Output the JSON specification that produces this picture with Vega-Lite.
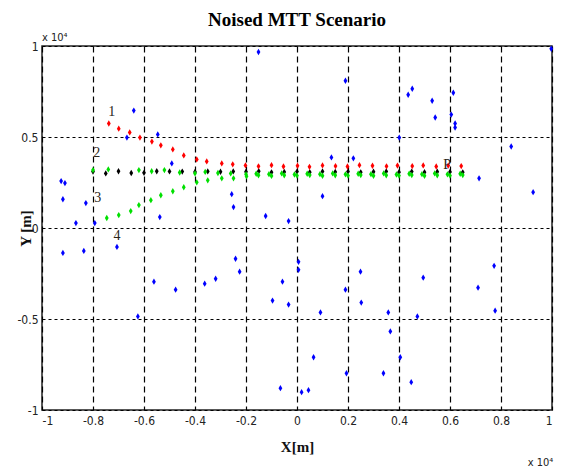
{
  "$schema": "https://vega.github.io/schema/vega-lite/v6.json",
  "width": 510,
  "height": 364,
  "autosize": {"type": "none"},
  "padding": {"left": 42, "top": 46, "right": 24, "bottom": 63},
  "background": "white",
  "config": {
    "view": {"stroke": "#222", "strokeWidth": 1.5},
    "axis": {
      "labelFont": "Liberation Sans Narrow, DejaVu Sans Condensed, sans-serif",
      "labelFontSize": 12,
      "labelColor": "#222",
      "titleFont": "Liberation Serif",
      "titleFontWeight": "bold",
      "titleFontSize": 15,
      "titleColor": "#111",
      "domain": false,
      "ticks": false,
      "gridColor": "black",
      "gridOpacity": 1,
      "gridWidth": 1.2
    }
  },
  "title": {
    "text": "Noised MTT Scenario",
    "font": "Liberation Serif",
    "fontSize": 19,
    "fontWeight": "bold",
    "color": "black",
    "offset": 2
  },
  "datasets": {
    "pts": [
      {"x": -0.151, "y": 0.967, "s": "clutter"},
      {"x": -0.640, "y": 0.645, "s": "clutter"},
      {"x": -0.546, "y": 0.514, "s": "clutter"},
      {"x": -0.667, "y": 0.497, "s": "clutter"},
      {"x": -0.491, "y": 0.355, "s": "clutter"},
      {"x": -0.925, "y": 0.258, "s": "clutter"},
      {"x": -0.910, "y": 0.247, "s": "clutter"},
      {"x": -0.918, "y": 0.158, "s": "clutter"},
      {"x": -0.828, "y": 0.137, "s": "clutter"},
      {"x": -0.867, "y": 0.027, "s": "clutter"},
      {"x": -0.793, "y": 0.027, "s": "clutter"},
      {"x": -0.538, "y": 0.060, "s": "clutter"},
      {"x": -0.256, "y": 0.186, "s": "clutter"},
      {"x": -0.249, "y": 0.115, "s": "clutter"},
      {"x": -0.918, "y": -0.137, "s": "clutter"},
      {"x": -0.836, "y": -0.126, "s": "clutter"},
      {"x": -0.706, "y": -0.104, "s": "clutter"},
      {"x": -0.561, "y": -0.295, "s": "clutter"},
      {"x": -0.476, "y": -0.339, "s": "clutter"},
      {"x": -0.624, "y": -0.486, "s": "clutter"},
      {"x": -0.362, "y": -0.306, "s": "clutter"},
      {"x": -0.319, "y": -0.279, "s": "clutter"},
      {"x": -0.241, "y": -0.169, "s": "clutter"},
      {"x": -0.225, "y": -0.240, "s": "clutter"},
      {"x": -0.096, "y": -0.399, "s": "clutter"},
      {"x": -0.057, "y": -0.295, "s": "clutter"},
      {"x": -0.033, "y": -0.421, "s": "clutter"},
      {"x": 0.006, "y": -0.186, "s": "clutter"},
      {"x": 0.006, "y": -0.230, "s": "clutter"},
      {"x": -0.065, "y": -0.880, "s": "clutter"},
      {"x": 0.018, "y": -0.902, "s": "clutter"},
      {"x": 0.045, "y": -0.891, "s": "clutter"},
      {"x": -0.033, "y": 0.038, "s": "clutter"},
      {"x": -0.123, "y": 0.066, "s": "clutter"},
      {"x": 0.092, "y": -0.464, "s": "clutter"},
      {"x": 0.065, "y": -0.710, "s": "clutter"},
      {"x": 0.190, "y": -0.339, "s": "clutter"},
      {"x": 0.249, "y": -0.240, "s": "clutter"},
      {"x": 0.252, "y": -0.410, "s": "clutter"},
      {"x": 0.194, "y": -0.798, "s": "clutter"},
      {"x": 0.339, "y": -0.798, "s": "clutter"},
      {"x": 0.358, "y": -0.464, "s": "clutter"},
      {"x": 0.366, "y": -0.568, "s": "clutter"},
      {"x": 0.405, "y": -0.710, "s": "clutter"},
      {"x": 0.448, "y": -0.847, "s": "clutter"},
      {"x": 0.472, "y": -0.486, "s": "clutter"},
      {"x": 0.495, "y": -0.273, "s": "clutter"},
      {"x": 0.710, "y": -0.328, "s": "clutter"},
      {"x": 0.773, "y": -0.208, "s": "clutter"},
      {"x": 0.777, "y": -0.454, "s": "clutter"},
      {"x": 0.452, "y": 0.765, "s": "clutter"},
      {"x": 0.436, "y": 0.732, "s": "clutter"},
      {"x": 0.530, "y": 0.699, "s": "clutter"},
      {"x": 0.542, "y": 0.607, "s": "clutter"},
      {"x": 0.613, "y": 0.743, "s": "clutter"},
      {"x": 0.605, "y": 0.623, "s": "clutter"},
      {"x": 0.620, "y": 0.574, "s": "clutter"},
      {"x": 0.620, "y": 0.552, "s": "clutter"},
      {"x": 0.401, "y": 0.497, "s": "clutter"},
      {"x": 0.840, "y": 0.448, "s": "clutter"},
      {"x": 0.714, "y": 0.273, "s": "clutter"},
      {"x": 0.926, "y": 0.197, "s": "clutter"},
      {"x": 0.190, "y": 0.809, "s": "clutter"},
      {"x": 0.135, "y": 0.388, "s": "clutter"},
      {"x": 0.221, "y": 0.383, "s": "clutter"},
      {"x": 0.100, "y": 0.175, "s": "clutter"},
      {"x": 0.997, "y": 0.985, "s": "clutter"},

      {"x": -0.80, "y": 0.310, "s": "t2"},
      {"x": -0.75, "y": 0.300, "s": "t2"},
      {"x": -0.70, "y": 0.312, "s": "t2"},
      {"x": -0.65, "y": 0.302, "s": "t2"},
      {"x": -0.60, "y": 0.303, "s": "t2"},
      {"x": -0.55, "y": 0.312, "s": "t2"},
      {"x": -0.50, "y": 0.311, "s": "t2"},
      {"x": -0.45, "y": 0.310, "s": "t2"},
      {"x": -0.40, "y": 0.308, "s": "t2"},
      {"x": -0.35, "y": 0.311, "s": "t2"},
      {"x": -0.30, "y": 0.309, "s": "t2"},
      {"x": -0.25, "y": 0.311, "s": "t2"},
      {"x": -0.20, "y": 0.309, "s": "t2"},
      {"x": -0.15, "y": 0.312, "s": "t2"},
      {"x": -0.10, "y": 0.306, "s": "t2"},
      {"x": -0.05, "y": 0.308, "s": "t2"},
      {"x": 0.00, "y": 0.310, "s": "t2"},
      {"x": 0.05, "y": 0.307, "s": "t2"},
      {"x": 0.10, "y": 0.311, "s": "t2"},
      {"x": 0.15, "y": 0.308, "s": "t2"},
      {"x": 0.20, "y": 0.310, "s": "t2"},
      {"x": 0.25, "y": 0.306, "s": "t2"},
      {"x": 0.30, "y": 0.309, "s": "t2"},
      {"x": 0.35, "y": 0.311, "s": "t2"},
      {"x": 0.40, "y": 0.307, "s": "t2"},
      {"x": 0.45, "y": 0.310, "s": "t2"},
      {"x": 0.50, "y": 0.307, "s": "t2"},
      {"x": 0.55, "y": 0.309, "s": "t2"},
      {"x": 0.60, "y": 0.308, "s": "t2"},
      {"x": 0.65, "y": 0.306, "s": "t2"},

      {"x": -0.738, "y": 0.574, "s": "t1"},
      {"x": -0.699, "y": 0.546, "s": "t1"},
      {"x": -0.656, "y": 0.525, "s": "t1"},
      {"x": -0.616, "y": 0.497, "s": "t1"},
      {"x": -0.569, "y": 0.475, "s": "t1"},
      {"x": -0.534, "y": 0.454, "s": "t1"},
      {"x": -0.487, "y": 0.432, "s": "t1"},
      {"x": -0.444, "y": 0.399, "s": "t1"},
      {"x": -0.393, "y": 0.377, "s": "t1"},
      {"x": -0.354, "y": 0.366, "s": "t1"},
      {"x": -0.295, "y": 0.355, "s": "t1"},
      {"x": -0.252, "y": 0.350, "s": "t1"},
      {"x": -0.202, "y": 0.344, "s": "t1"},
      {"x": -0.151, "y": 0.339, "s": "t1"},
      {"x": -0.100, "y": 0.345, "s": "t1"},
      {"x": -0.053, "y": 0.338, "s": "t1"},
      {"x": 0.002, "y": 0.342, "s": "t1"},
      {"x": 0.049, "y": 0.336, "s": "t1"},
      {"x": 0.100, "y": 0.344, "s": "t1"},
      {"x": 0.151, "y": 0.340, "s": "t1"},
      {"x": 0.198, "y": 0.338, "s": "t1"},
      {"x": 0.245, "y": 0.345, "s": "t1"},
      {"x": 0.296, "y": 0.342, "s": "t1"},
      {"x": 0.351, "y": 0.339, "s": "t1"},
      {"x": 0.394, "y": 0.343, "s": "t1"},
      {"x": 0.452, "y": 0.340, "s": "t1"},
      {"x": 0.495, "y": 0.344, "s": "t1"},
      {"x": 0.546, "y": 0.338, "s": "t1"},
      {"x": 0.593, "y": 0.343, "s": "t1"},
      {"x": 0.644, "y": 0.340, "s": "t1"},

      {"x": -0.80, "y": 0.318, "s": "t3"},
      {"x": -0.74, "y": 0.322, "s": "t3"},
      {"x": -0.62, "y": 0.318, "s": "t3"},
      {"x": -0.57, "y": 0.312, "s": "t3"},
      {"x": -0.52, "y": 0.318, "s": "t3"},
      {"x": -0.46, "y": 0.305, "s": "t3"},
      {"x": -0.40, "y": 0.300, "s": "t3"},
      {"x": -0.36, "y": 0.308, "s": "t3"},
      {"x": -0.31, "y": 0.302, "s": "t3"},
      {"x": -0.26, "y": 0.300, "s": "t3"},
      {"x": -0.20, "y": 0.295, "s": "t3"},
      {"x": -0.16, "y": 0.298, "s": "t3"},
      {"x": -0.11, "y": 0.296, "s": "t3"},
      {"x": -0.06, "y": 0.300, "s": "t3"},
      {"x": -0.01, "y": 0.294, "s": "t3"},
      {"x": 0.04, "y": 0.298, "s": "t3"},
      {"x": 0.09, "y": 0.296, "s": "t3"},
      {"x": 0.14, "y": 0.300, "s": "t3"},
      {"x": 0.19, "y": 0.295, "s": "t3"},
      {"x": 0.24, "y": 0.298, "s": "t3"},
      {"x": 0.29, "y": 0.296, "s": "t3"},
      {"x": 0.34, "y": 0.300, "s": "t3"},
      {"x": 0.39, "y": 0.294, "s": "t3"},
      {"x": 0.44, "y": 0.298, "s": "t3"},
      {"x": 0.49, "y": 0.296, "s": "t3"},
      {"x": 0.54, "y": 0.300, "s": "t3"},
      {"x": 0.59, "y": 0.295, "s": "t3"},
      {"x": 0.64, "y": 0.298, "s": "t3"},

      {"x": -0.746, "y": 0.055, "s": "t4"},
      {"x": -0.699, "y": 0.071, "s": "t4"},
      {"x": -0.652, "y": 0.093, "s": "t4"},
      {"x": -0.620, "y": 0.126, "s": "t4"},
      {"x": -0.573, "y": 0.153, "s": "t4"},
      {"x": -0.534, "y": 0.180, "s": "t4"},
      {"x": -0.487, "y": 0.202, "s": "t4"},
      {"x": -0.444, "y": 0.224, "s": "t4"},
      {"x": -0.393, "y": 0.251, "s": "t4"},
      {"x": -0.350, "y": 0.262, "s": "t4"},
      {"x": -0.295, "y": 0.273, "s": "t4"},
      {"x": -0.249, "y": 0.273, "s": "t4"},
      {"x": -0.198, "y": 0.284, "s": "t4"},
      {"x": -0.151, "y": 0.290, "s": "t4"},
      {"x": -0.100, "y": 0.286, "s": "t4"},
      {"x": -0.050, "y": 0.290, "s": "t4"},
      {"x": 0.000, "y": 0.288, "s": "t4"},
      {"x": 0.050, "y": 0.291, "s": "t4"},
      {"x": 0.100, "y": 0.287, "s": "t4"},
      {"x": 0.150, "y": 0.290, "s": "t4"},
      {"x": 0.200, "y": 0.288, "s": "t4"},
      {"x": 0.250, "y": 0.291, "s": "t4"},
      {"x": 0.300, "y": 0.287, "s": "t4"},
      {"x": 0.350, "y": 0.290, "s": "t4"},
      {"x": 0.400, "y": 0.288, "s": "t4"},
      {"x": 0.450, "y": 0.291, "s": "t4"},
      {"x": 0.500, "y": 0.287, "s": "t4"},
      {"x": 0.550, "y": 0.290, "s": "t4"},
      {"x": 0.600, "y": 0.288, "s": "t4"},
      {"x": 0.650, "y": 0.291, "s": "t4"}
    ],
    "labels": [
      {"x": -0.726, "y": 0.639, "t": "1"},
      {"x": -0.785, "y": 0.410, "t": "2"},
      {"x": -0.781, "y": 0.164, "t": "3"},
      {"x": -0.706, "y": -0.044, "t": "4"},
      {"x": 0.589, "y": 0.344, "t": "P"}
    ],
    "exps": [
      {"x": -1.0, "y": 1.015, "t": "x 10⁴"},
      {"x": 0.905, "y": -1.32, "t": "x 10⁴"}
    ]
  },
  "layer": [
    {
      "data": {"name": "pts"},
      "mark": {
        "type": "point",
        "filled": true,
        "opacity": 1,
        "size": 40,
        "shape": "M0,-1L0.6,0L0,1L-0.6,0Z"
      },
      "encoding": {
        "x": {
          "field": "x",
          "type": "quantitative",
          "scale": {"domain": [-1, 1], "nice": false, "zero": false},
          "axis": {
            "values": [-1, -0.8, -0.6, -0.4, -0.2, 0, 0.2, 0.4, 0.6, 0.8, 1],
            "labelExpr": "'' + datum.value",
            "grid": true,
            "gridDash": [6, 4],
            "labelPadding": 5,
            "title": "X[m]",
            "titlePadding": 13
          }
        },
        "y": {
          "field": "y",
          "type": "quantitative",
          "scale": {"domain": [-1, 1], "nice": false, "zero": false},
          "axis": {
            "values": [-1, -0.5, 0, 0.5, 1],
            "labelExpr": "'' + datum.value",
            "grid": true,
            "gridDash": [3, 3],
            "labelPadding": 4,
            "title": "Y [m]",
            "titleX": -17,
            "titleBaseline": "middle"
          }
        },
        "color": {
          "field": "s",
          "type": "nominal",
          "scale": {
            "domain": ["clutter", "t1", "t2", "t3", "t4"],
            "range": ["#0000ff", "#ff0000", "#000000", "#00e000", "#00e000"]
          },
          "legend": null
        }
      }
    },
    {
      "data": {"name": "labels"},
      "mark": {
        "type": "text",
        "font": "Liberation Serif",
        "fontSize": 14,
        "color": "#2a2418",
        "align": "center",
        "baseline": "middle"
      },
      "encoding": {
        "x": {"field": "x", "type": "quantitative"},
        "y": {"field": "y", "type": "quantitative"},
        "text": {"field": "t"}
      }
    },
    {
      "data": {"name": "exps"},
      "mark": {
        "type": "text",
        "font": "Liberation Sans Narrow, DejaVu Sans Condensed, sans-serif",
        "fontSize": 11,
        "color": "#222",
        "align": "left",
        "baseline": "bottom"
      },
      "encoding": {
        "x": {"field": "x", "type": "quantitative"},
        "y": {"field": "y", "type": "quantitative"},
        "text": {"field": "t"}
      }
    }
  ]
}
